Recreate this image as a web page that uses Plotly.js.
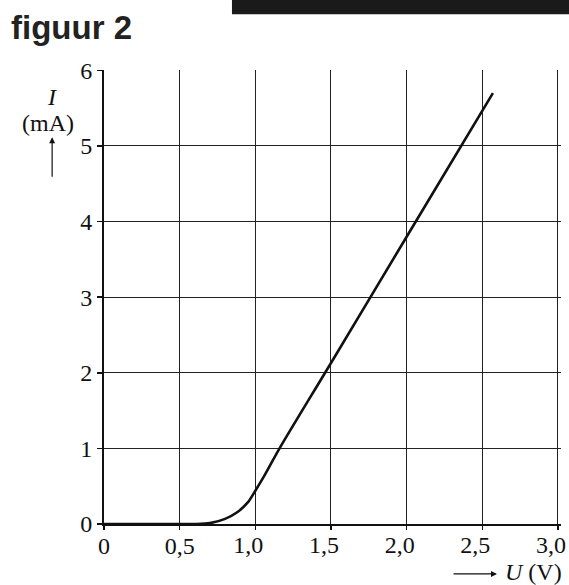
<!DOCTYPE html>
<html>
<head>
<meta charset="utf-8">
<script src="https://cdn.plot.ly/plotly-3.0.1.min.js"></script>
<style>
  html, body { margin: 0; padding: 0; background: #fff; }
  #myPlot { width: 569px; height: 585px; }
</style>
</head>
<body>
<div id="myPlot"></div>
<script>
// values
let voltage = [0, 0.3, 0.6, 0.7, 0.8, 0.88, 0.95, 1.0, 1.06, 1.16, 1.5, 2.0, 2.57];
let current = [0, 0, 0, 0.012, 0.068, 0.155, 0.285, 0.44, 0.64, 1.0, 2.13, 3.8, 5.7];

let xTickVals = [0, 0.5, 1.0, 1.5, 2.0, 2.5, 3.0];
let xTickText = ['0', '0,5', '1,0', '1,5', '2,0', '2,5', '3,0'];
let yTickVals = [0, 1, 2, 3, 4, 5, 6];

const serif = 'Liberation Serif, Times New Roman, serif';

function renderChart() {

    // the curve
    const trace = {
        x: voltage,
        y: current,
        mode: 'lines',
        type: 'scatter',
        line: { color: '#111', width: 2.6, shape: 'spline', smoothing: 0.8 },
        hoverinfo: 'skip'
    };

    // empty trace, only so the second x axis gets drawn
    const holder = {
        x: voltage,
        y: current,
        xaxis: 'x2',
        mode: 'none',
        type: 'scatter',
        hoverinfo: 'skip'
    };

    // in the figure the labels from 1,0 on sit a little left of their tick,
    // so those go on a second (overlaid) x axis that is shifted
    const firstText = xTickText.map((t, i) => i < 2 ? t : '');
    const restVals = xTickVals.slice(2);
    const restText = xTickText.slice(2);

    const xCommon = {
        range: [0, 3.02],
        zeroline: false,
        ticks: 'outside',
        ticklen: 4,
        tickwidth: 1.5,
        ticklabelstandoff: -5,
        ticklabeloverflow: 'allow',
        tickfont: { family: serif, size: 24, color: '#111' },
        fixedrange: true
    };

    const layout = {
        width: 569,
        height: 585,
        margin: { l: 104, r: 8, t: 70, b: 61 },
        paper_bgcolor: '#fff',
        plot_bgcolor: '#fff',
        showlegend: false,
        title: {
            text: '<b>figuur 2</b>',
            font: { family: 'Liberation Sans, Arial, sans-serif', size: 33, color: '#222' },
            xref: 'container', yref: 'container',
            x: 11 / 569, xanchor: 'left',
            y: 1 - 27 / 585, yanchor: 'middle'
        },
        xaxis: Object.assign({}, xCommon, {
            tickvals: xTickVals,
            ticktext: firstText,
            showgrid: true,
            gridcolor: '#222',
            gridwidth: 1,
            showline: true,
            linecolor: '#111',
            linewidth: 2,
            tickcolor: '#111'
        }),
        xaxis2: Object.assign({}, xCommon, {
            overlaying: 'x',
            anchor: 'y',
            side: 'bottom',
            tickvals: restVals,
            ticktext: restText,
            showgrid: false,
            showline: false,
            tickcolor: 'rgba(0,0,0,0)',
            ticklabelshift: -7
        }),
        yaxis: {
            range: [0, 6.005],
            tickvals: yTickVals,
            showgrid: true,
            gridcolor: '#222',
            gridwidth: 1,
            zeroline: false,
            showline: true,
            linecolor: '#111',
            linewidth: 2,
            ticks: 'outside',
            ticklen: 5,
            tickwidth: 1.5,
            tickcolor: '#111',
            ticklabeloverflow: 'allow',
            tickfont: { family: serif, size: 24, color: '#111' },
            fixedrange: true
        },
        shapes: [
            // black bar at the top of the page
            { type: 'rect', xref: 'paper', yref: 'paper', x0: 0.28, x1: 1.03, y0: 1.123, y1: 1.16,
              fillcolor: '#1a1a1a', line: { width: 0 } }
        ],
        annotations: [
            { text: '<i>I</i>', xref: 'paper', yref: 'paper', x: -0.1135, y: 0.9405,
              xanchor: 'center', yanchor: 'middle',
              showarrow: false, font: { family: serif, size: 24, color: '#111' } },
            { text: '(mA)', xref: 'paper', yref: 'paper', x: -0.122, y: 0.883,
              xanchor: 'center', yanchor: 'middle',
              showarrow: false, font: { family: serif, size: 24, color: '#111' } },
            // arrow up under the y label
            { text: '', xref: 'paper', yref: 'paper', x: -0.1135, y: 0.852,
              showarrow: true, ax: 0, ay: 41, arrowhead: 2, arrowsize: 1, arrowwidth: 1.2, arrowcolor: '#111' },
            // arrow right before the x label
            { text: '', xref: 'paper', yref: 'paper', x: 0.860, y: -0.110,
              showarrow: true, ax: -45, ay: 0, arrowhead: 2, arrowsize: 1, arrowwidth: 1.2, arrowcolor: '#111' },
            { text: '<i>U</i> (V)', xref: 'paper', yref: 'paper', x: 0.939, y: -0.106,
              xanchor: 'center', yanchor: 'middle',
              showarrow: false, font: { family: serif, size: 24, color: '#111' } }
        ]
    };

    Plotly.newPlot('myPlot', [trace, holder], layout, { staticPlot: true });
}

renderChart();
</script>
</body>
</html>
